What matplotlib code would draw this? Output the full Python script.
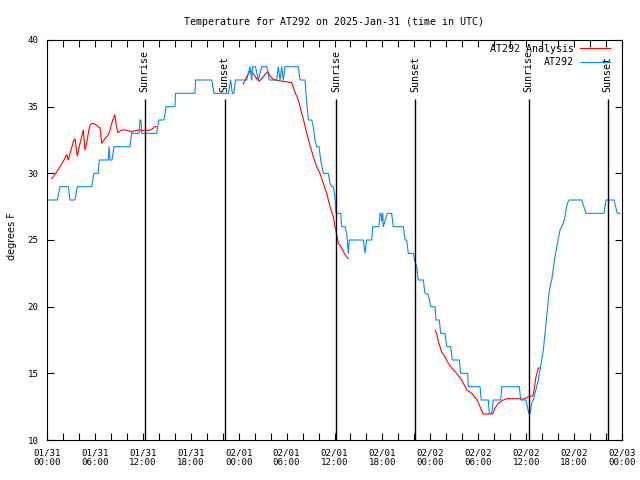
import numpy as np
import matplotlib
matplotlib.use('Agg')
import matplotlib.pyplot as plt
from matplotlib.ticker import MultipleLocator

plt.rcParams['font.family'] = 'DejaVu Sans Mono'
plt.rcParams['font.size'] = 7.2

# Observasi AT292 (jam sejak 01/31 00:00 UTC, derajat F)
obs_hours = [0, 1.3, 1.63, 2.67, 2.88, 3.5, 3.8, 5.6, 5.88, 6.42, 6.55, 7.68, 7.76, 7.9, 8.14, 8.39,
             10.39, 10.6, 11.52, 11.65, 11.77, 11.86, 13.74, 14.02, 14.65, 14.9, 16.03, 16.09, 18.53,
             18.6, 20.62, 20.91, 22.08, 22.7, 23.0, 23.2, 23.4, 23.6, 24.08, 25.0, 25.42, 25.63, 25.76,
             26.1, 26.46, 26.88, 27.51, 27.84, 28.76, 28.96, 29.18, 29.39, 29.59, 29.8, 31.47, 31.68,
             32.31, 32.43, 32.72, 33.15, 33.35, 33.56, 33.77, 34.06, 34.27, 34.6, 35.22, 35.44, 35.65,
             35.85, 36.06, 36.19, 36.78, 36.9, 37.32, 37.53, 37.73, 37.85, 39.61, 39.82, 40.03, 40.66,
             40.78, 41.57, 41.7, 41.82, 41.91, 42.04, 42.11, 42.32, 42.61, 43.16, 43.36, 44.62, 44.83,
             45.04, 45.24, 45.87, 46.08, 46.29, 46.49, 47.12, 47.33, 47.75, 48.05, 48.59, 48.71, 49.12,
             49.3, 49.84, 50.05, 50.55, 50.75, 51.63, 51.8, 52.68, 52.76, 54.22, 54.38, 55.26, 55.39,
             55.69, 55.89, 56.81, 56.94, 59.14, 59.32, 59.98, 60.14, 60.32, 60.48, 60.69, 60.89, 61.1,
             61.32, 61.52, 61.73, 61.95, 62.15, 62.27, 62.45, 62.57, 62.7, 62.86, 63.07, 63.2, 63.43,
             63.68, 63.99, 64.24, 64.65, 64.86, 65.15, 65.4, 66.95, 67.49, 69.75, 70.0, 71.0, 71.41, 71.75]
obs_temp = [28, 28, 29, 29, 28, 28, 29, 29, 30, 30, 31, 31, 32, 31, 31, 32,
            32, 33, 33, 34, 34, 33, 33, 34, 34, 35, 35, 36, 36,
            37, 37, 36, 36, 36, 37, 36, 36, 37, 37, 37, 38, 37, 38,
            38, 37, 38, 38, 37, 37, 38, 37, 38, 37, 38, 38, 37,
            37, 36, 34, 34, 33.5, 32.5, 32, 32, 31, 30, 30, 29.25, 29,
            29, 28.25, 27, 27, 26, 26, 25.5, 24, 25, 25, 24, 25, 25,
            26, 26, 27, 27, 26.4, 27, 26, 26.4, 27, 27, 26, 26, 25,
            25, 24, 24, 23.4, 23, 22, 22, 21, 20.9, 20, 20, 19, 19,
            18, 18, 17, 17, 16, 16, 15, 15, 14, 14, 13, 13, 12,
            12, 13, 13, 14, 14, 13, 13, 12.55, 12, 12, 12.75, 13, 13.5,
            14, 14.5, 15.25, 16, 16.75, 17.5, 18.5, 19.25, 20, 21, 21.75, 22, 23,
            24, 25, 25.75, 26.25, 26.75, 27.75, 28, 28, 27, 27, 28, 28, 27, 27]

# Analisis AT292 (tiga potongan, dipisah NaN)
ana_hours = [0.59, 0.79, 1.21, 1.63, 2.04, 2.47, 2.67, 2.88, 3.09, 3.29, 3.51, 3.63, 3.79, 4.04,
             4.35, 4.55, 4.76, 4.97, 5.17, 5.38, 5.6, 6.01, 6.42, 6.64, 6.85, 7.26, 7.68, 7.89,
             8.23, 8.51, 8.64, 8.85, 9.35, 9.77, 10.18, 10.61, 11.02, 11.43, 11.86, 12.27, 12.68,
             13.11, 13.52, 13.74, np.nan,
             24.58, 25.0, 25.42, 25.83, 26.26, 26.58, 27.09, 27.51, 27.71, 27.92, 28.34, 28.96,
             29.59, 30.64, 31.05, 31.47, 31.68, 31.89, 32.09, 32.52, 32.93, 33.35, 33.77, 34.18,
             34.6, 35.02, 35.44, 35.85, 36.06, 36.28, 36.48, 36.9, 37.32, 37.73, np.nan,
             48.59, 48.8, 49.0, 49.42, 49.84, 50.25, 50.68, 51.3, 51.93, 52.55, 53.18, 53.81,
             54.22, 54.63, 55.81, 56.1, 56.51, 57.14, 57.56, 59.14, 59.44, 59.85, 60.27, 60.82,
             60.98, 61.23, 61.52, 61.82]
ana_temp = [29.6, 29.75, 30.1, 30.5, 30.9, 31.4, 31, 31.5, 31.9, 32.4, 32.6, 32, 31.3, 32,
            32.75, 33.25, 31.75, 32.25, 33, 33.6, 33.75, 33.7, 33.5, 33.4, 32.25, 32.6, 32.9, 33.25,
            34, 34.4, 33.75, 33.05, 33.25, 33.25, 33.2, 33.1, 33.2, 33.25, 33.2, 33.25, 33.2,
            33.3, 33.5, 33.5, np.nan,
            36.7, 37.25, 37.7, 37.5, 37.1, 36.9, 37.25, 37.55, 37.6, 37.3, 37.05, 36.95,
            36.9, 36.8, 36.1, 35.5, 35, 34.5, 34.1, 33, 32.1, 31.25, 30.5, 30,
            29.25, 28.5, 27.5, 26.75, 26, 25.4, 24.75, 24.4, 23.9, 23.6, np.nan,
            18.2, 18, 17.4, 16.6, 16.25, 15.75, 15.4, 15, 14.5, 13.75, 13.5, 13.05,
            12.5, 11.95, 11.95, 12.4, 12.75, 13, 13.1, 13.1, 13.05, 13.1, 13.25, 13.3,
            13.75, 14.75, 15.4, 15.4]

# Matahari terbit / terbenam
sun_hours = [12.22, 22.24, 36.23, 46.12, 60.31, 70.2]
sun_names = ['Sunrise', 'Sunset', 'Sunrise', 'Sunset', 'Sunrise', 'Sunset']

tick_hours = [0, 6, 12, 18, 24, 30, 36, 42, 48, 54, 60, 66, 72]
tick_labels = ['01/31\n00:00', '01/31\n06:00', '01/31\n12:00', '01/31\n18:00',
               '02/01\n00:00', '02/01\n06:00', '02/01\n12:00', '02/01\n18:00',
               '02/02\n00:00', '02/02\n06:00', '02/02\n12:00', '02/02\n18:00',
               '02/03\n00:00']

fig = plt.figure(figsize=(6.4, 4.8), dpi=100)
ax = fig.add_axes([47 / 640, 40 / 480, 575 / 640, 400 / 480])

ax.plot(ana_hours, ana_temp, color='#ff0000', lw=0.8, label='AT292 Analysis')
ax.plot(obs_hours, obs_temp, color='#0a84ff', lw=0.8, label='AT292')

# garis vertikal dan labelnya
ax.vlines(sun_hours, 10, 35.6, color='black', lw=1)
for h, name in zip(sun_hours, sun_names):
    ax.text(h, 36.1, name, rotation=90, ha='center', va='bottom')

ax.set_xlim(0, 72)
ax.set_ylim(10, 40)
ax.set_xticks(tick_hours)
ax.set_xticklabels(tick_labels, fontsize=6.6, linespacing=1.15)
ax.xaxis.set_minor_locator(MultipleLocator(2))
ax.yaxis.set_major_locator(MultipleLocator(5))
ax.tick_params(which='both', direction='in', top=True, right=True, length=5, width=0.8)
ax.tick_params(axis='x', pad=6)
ax.tick_params(axis='y', pad=6, labelsize=6.6)

ax.set_ylabel('degrees F', family='DejaVu Sans', fontsize=7)
ax.yaxis.set_label_coords(-0.052, 0.51)
ax.set_title('Temperature for AT292 on 2025-Jan-31 (time in UTC)', fontsize=7.2, pad=11)

ax.legend(loc='upper right', bbox_to_anchor=(1 - 12 / 575, 1 - 4 / 400), frameon=False,
          markerfirst=False, handlelength=3.0, borderaxespad=0, borderpad=0,
          labelspacing=0.35, handletextpad=0.6)

fig.savefig('out.png', dpi=100)
